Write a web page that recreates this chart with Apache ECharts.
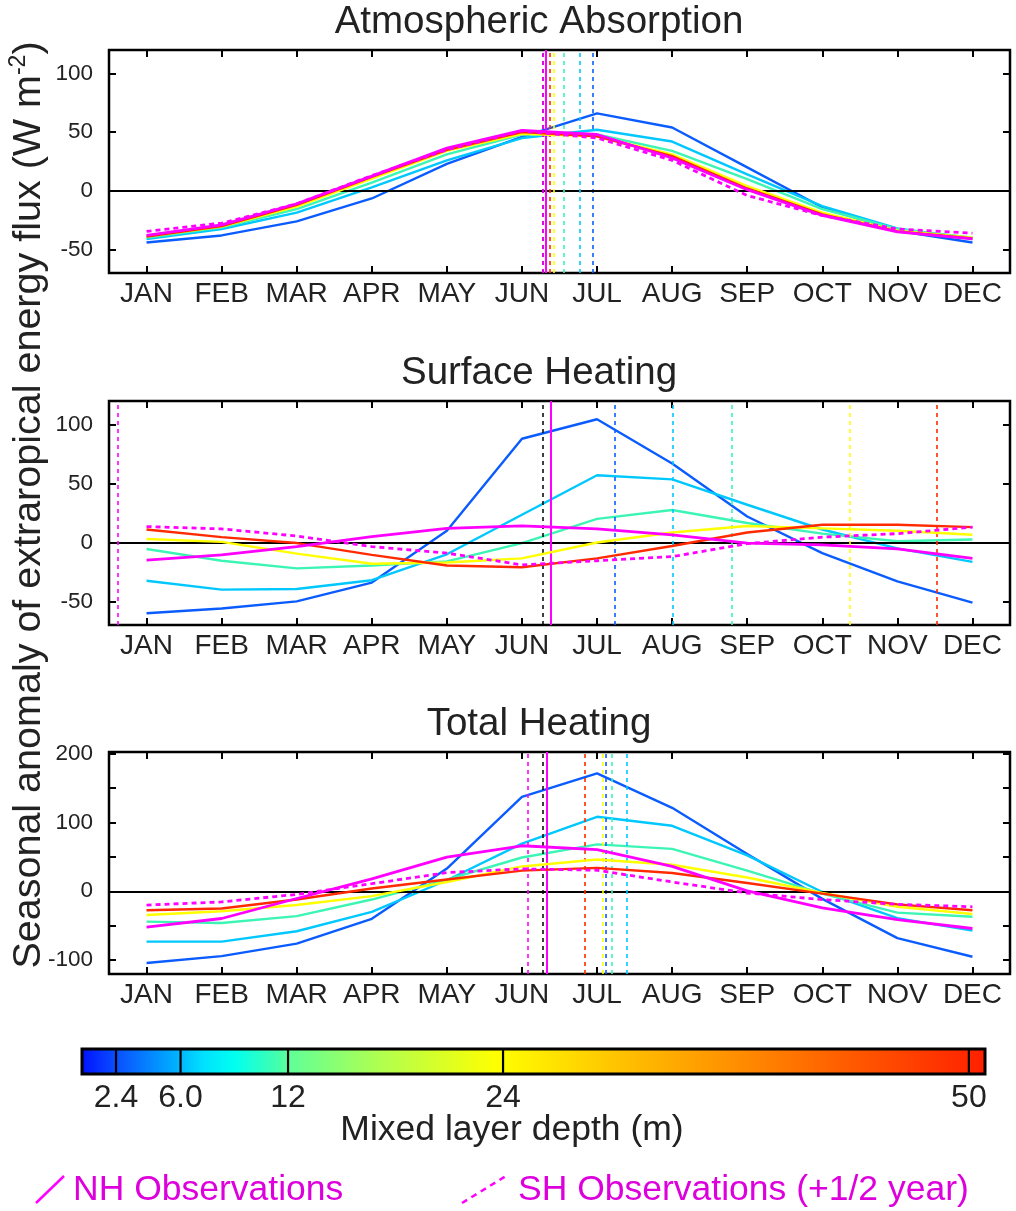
<!DOCTYPE html>
<html><head><meta charset="utf-8">
<script src="https://cdn.jsdelivr.net/npm/echarts@6/dist/echarts.min.js"></script>
<style>html,body{margin:0;padding:0;background:#fff}#c{width:1016px;height:1211px}</style>
</head><body><div id="c"></div>
<script>
// ---------- DATA ----------
const months = ['JAN','FEB','MAR','APR','MAY','JUN','JUL','AUG','SEP','OCT','NOV','DEC'];
const depthLabels = ['2.4','6.0','12','24','50'];
const depthValues = [2.4, 6.0, 12, 24, 50];

// Atmospheric Absorption
const atm_2_4 = [-44, -38, -26, -6.5, 23, 46, 66, 54, 20, -14, -34, -44];
const atm_6_0 = [-41, -32.5, -18.5, 3, 26, 45, 52, 42, 14, -13, -32, -41];
const atm_12  = [-40, -31, -15.5, 7, 31, 48, 48, 34, 10, -15.5, -32.5, -40];
const atm_24  = [-39, -30.5, -13.5, 10.5, 34, 48.5, 46.5, 31, 4, -18.5, -34, -40];
const atm_50  = [-39, -30, -12, 12, 35, 50, 46.5, 29.5, 2, -20, -34.5, -40.5];
const atm_nh  = [-38, -29, -11, 12.5, 36.5, 51.5, 48, 28, 1, -21, -35, -41];
const atm_sh  = [-34.5, -27.5, -11, 13, 35, 51, 45, 26, -4, -21, -32.5, -36];
const atm_peaks = [6.94, 6.77, 6.555, 6.43, 6.37, 6.32, 6.275]; // 2.4,6,12,24,50,NH,SH

// Surface Heating
const sfc_2_4 = [-60, -56, -50, -34, 10, 88, 104.5, 67, 22, -9, -33, -51];
const sfc_6_0 = [-32.5, -40, -39.5, -32, -10, 23.5, 57, 53.5, 32, 11, -5, -16.5];
const sfc_12  = [-5.5, -15.5, -22, -19.5, -16, -0.5, 20, 27.5, 16.5, 7.5, 1, 2.5];
const sfc_24  = [3, 0.5, -9.5, -18, -17, -13.5, 0, 8.5, 14, 12, 10, 6.5];
const sfc_50  = [11, 4.5, -0.5, -10.5, -19.5, -21, -13.5, -3, 8.5, 15, 15, 13];
const sfc_nh  = [-15, -10.5, -3.5, 5, 12, 14, 11.5, 6.5, -0.5, -2, -5.5, -13.5];
const sfc_sh  = [13.5, 11.5, 5.5, -3.5, -9, -19, -15.5, -12, -1, 4.5, 7.5, 13];
const sfc_peaks = [7.23, 8.01, 8.79, 10.36, 11.52, 6.39, 0.61];

// Total Heating
const tot_2_4 = [-104, -94, -76, -40, 33, 137, 171, 121, 54, -11, -68, -95];
const tot_6_0 = [-73, -73, -58, -30, 16, 69, 108, 95, 52, -1, -39, -57];
const tot_12  = [-44, -46, -36, -12, 17, 49, 68, 61.5, 30, -3.5, -31, -37];
const tot_24  = [-34.5, -29, -20, -7, 13.5, 36, 46, 38.5, 20, -2.5, -22.5, -33];
const tot_50  = [-27.5, -25, -12, 4, 17, 30, 34, 26.5, 12, -3.5, -19, -27.5];
const tot_nh  = [-52, -39.5, -10.5, 18, 49.5, 66, 60.5, 36, 0.5, -24, -41, -54];
const tot_sh  = [-20, -15.5, -4.5, 11, 27, 32.5, 30.5, 13.5, -2.5, -12, -19, -22.5];
const tot_peaks = [7.105, 7.39, 7.2, 7.08, 6.83, 6.33, 6.08];

const solstice = 6.28;

const panelTitles = ['Atmospheric Absorption', 'Surface Heating', 'Total Heating'];
const yTicks1 = [-50, 0, 50, 100];
const yTicks3 = [-100, -50, 0, 50, 100, 150, 200];
const yLabels3 = [-100, 0, 100, 200];

// ---------- STYLE ----------
const FONT = "'Liberation Sans', Arial, Helvetica, sans-serif";
const depthColors = ['#0a5cff', '#00c8ff', '#3cf5b4', '#ffff00', '#ff2a00'];
const MAG = '#ff00ff';

const panels = [
  {series: [atm_2_4, atm_6_0, atm_12, atm_24, atm_50, atm_nh, atm_sh], peaks: atm_peaks, range: [-70, 120], ticks: yTicks1, labels: yTicks1},
  {series: [sfc_2_4, sfc_6_0, sfc_12, sfc_24, sfc_50, sfc_nh, sfc_sh], peaks: sfc_peaks, range: [-70, 120], ticks: yTicks1, labels: yTicks1},
  {series: [tot_2_4, tot_6_0, tot_12, tot_24, tot_50, tot_nh, tot_sh], peaks: tot_peaks, range: [-120, 202], ticks: yTicks3, labels: yLabels3}
];
const gridPos = [
  {left: 109, top: 50, width: 901, height: 223},
  {left: 109, top: 401, width: 901, height: 224},
  {left: 109, top: 752, width: 901, height: 222}
];
const monthIdx = months.map((m, i) => i + 1);

const grid = [], xAxis = [], yAxis = [], series = [];
panels.forEach((p, gi) => {
  grid.push(Object.assign({show: true, borderColor: '#000', borderWidth: 2.5, backgroundColor: 'transparent'}, gridPos[gi]));
  ['bottom', 'top'].forEach(pos => xAxis.push({
    type: 'value', gridIndex: gi, position: pos, min: 0.5, max: 12.5,
    axisLine: {show: false, onZero: false}, splitLine: {show: false},
    axisTick: {show: true, inside: true, length: 7, lineStyle: {color: '#000', width: 2}, customValues: monthIdx},
    axisLabel: {show: pos === 'bottom', customValues: monthIdx, formatter: v => months[Math.round(v) - 1],
      fontSize: 28, color: '#222', fontFamily: FONT, margin: 7}
  }));
  ['left', 'right'].forEach(pos => yAxis.push({
    type: 'value', gridIndex: gi, position: pos, min: p.range[0], max: p.range[1],
    axisLine: {show: false, onZero: false}, splitLine: {show: false},
    axisTick: {show: true, inside: true, length: 7, lineStyle: {color: '#000', width: 2}, customValues: p.ticks},
    axisLabel: {show: pos === 'left', customValues: p.labels, fontSize: 22.5, color: '#222', fontFamily: FONT, margin: 16}
  }));
  p.series.forEach((vals, si) => {
    const isNH = si === 5, isSH = si === 6;
    const color = si < 5 ? depthColors[si] : MAG;
    const mlData = [{xAxis: p.peaks[si]}];
    if (si === 0) {
      mlData.push({yAxis: 0, lineStyle: {color: '#000', width: 2, type: 'solid'}});
      mlData.push({xAxis: solstice, lineStyle: {color: '#000', width: 1.5, type: [4, 4]}});
    }
    series.push({
      type: 'line', xAxisIndex: gi * 2, yAxisIndex: gi * 2, symbol: 'none', silent: true,
      data: vals.map((v, k) => [k + 1, v]),
      lineStyle: {color: color, width: isNH || isSH ? 2.8 : 2.4, type: isSH ? [5, 4] : 'solid'},
      z: si < 5 ? 2 + si : 8,
      markLine: {silent: true, symbol: 'none', animation: false, label: {show: false},
        lineStyle: {color: color, width: isNH ? 2 : 1.6, type: isNH ? 'solid' : [4, 4]},
        data: mlData}
    });
  });
});

// colour bar
grid.push({left: 82, top: 1049, width: 903, height: 25, show: false});
xAxis.push({type: 'value', gridIndex: 3, min: 0.5, max: 50.9,
  axisLine: {show: false, onZero: false}, splitLine: {show: false}, axisTick: {show: false},
  axisLabel: {customValues: depthValues, formatter: v => depthLabels[depthValues.indexOf(v)],
    fontSize: 32, color: '#222', fontFamily: FONT, margin: 8}});
yAxis.push({type: 'value', gridIndex: 3, min: 0, max: 1, show: false});
const cbStops = [
  [0, '#0010ff'], [0.04, '#0a50ff'], [0.10, '#00a8ff'], [0.135, '#00e0ff'], [0.17, '#00fff0'],
  [0.215, '#40ffb0'], [0.23, '#60ff98'], [0.33, '#b0ff50'], [0.46, '#ffff00'], [0.60, '#ffc000'],
  [0.72, '#ff9000'], [0.85, '#ff5a00'], [1, '#ff2000']
];
series.push({
  type: 'custom', xAxisIndex: 6, yAxisIndex: 6, silent: true,
  data: [[0.5, 50.9]],
  renderItem: (params, api) => {
    const a = api.coord([api.value(0), 0]);
    const b = api.coord([api.value(1), 1]);
    return {type: 'rect', shape: {x: a[0], y: b[1], width: b[0] - a[0], height: a[1] - b[1]},
      style: {fill: new echarts.graphic.LinearGradient(0, 0, 1, 0, cbStops.map(s => ({offset: s[0], color: s[1]}))),
        stroke: '#000', lineWidth: 3}};
  },
  z: 5
});
series.push({
  type: 'custom', xAxisIndex: 6, yAxisIndex: 6, silent: true,
  data: depthValues.map(d => [d]),
  renderItem: (params, api) => {
    const a = api.coord([api.value(0), 0]);
    const b = api.coord([api.value(0), 1]);
    return {type: 'line', shape: {x1: a[0], y1: a[1], x2: b[0], y2: b[1]}, style: {stroke: '#000', lineWidth: 2.2}};
  },
  z: 6
});

const graphic = [];
const titleY = [22, 373, 724];
panelTitles.forEach((t, i) => graphic.push({type: 'text', x: 539, y: titleY[i],
  style: {text: t, font: '38.5px ' + FONT, fill: '#222', align: 'center', verticalAlign: 'middle'}}));
graphic.push({type: 'text', x: 29, y: 505, rotation: Math.PI / 2,
  style: {text: '{n|Seasonal anomaly of extraropical energy flux (W m}{s|-2}{n|)}',
    align: 'center', verticalAlign: 'middle', fill: '#222',
    rich: {n: {fontSize: 39.5, lineHeight: 44, fontFamily: FONT, fill: '#222', color: '#222'},
           s: {fontSize: 23, lineHeight: 24, verticalAlign: 'top', fontFamily: FONT, fill: '#222', color: '#222'}}}});
graphic.push({type: 'text', x: 512, y: 1130,
  style: {text: 'Mixed layer depth (m)', font: '35.5px ' + FONT, fill: '#222', align: 'center', verticalAlign: 'middle'}});
graphic.push({type: 'line', shape: {x1: 36, y1: 1203, x2: 64, y2: 1176}, style: {stroke: MAG, lineWidth: 2.5}});
graphic.push({type: 'text', x: 73, y: 1190,
  style: {text: 'NH Observations', font: '35.5px ' + FONT, fill: '#dd00dd', align: 'left', verticalAlign: 'middle'}});
graphic.push({type: 'line', shape: {x1: 462, y1: 1203, x2: 506, y2: 1176}, style: {stroke: MAG, lineWidth: 2.5, lineDash: [6, 5]}});
graphic.push({type: 'text', x: 518, y: 1190,
  style: {text: 'SH Observations (+1/2 year)', font: '35.5px ' + FONT, fill: '#dd00dd', align: 'left', verticalAlign: 'middle'}});

const chart = echarts.init(document.getElementById('c'), null, {renderer: 'canvas'});
chart.setOption({animation: false, backgroundColor: '#fff', grid, xAxis, yAxis, series, graphic});
</script></body></html>
